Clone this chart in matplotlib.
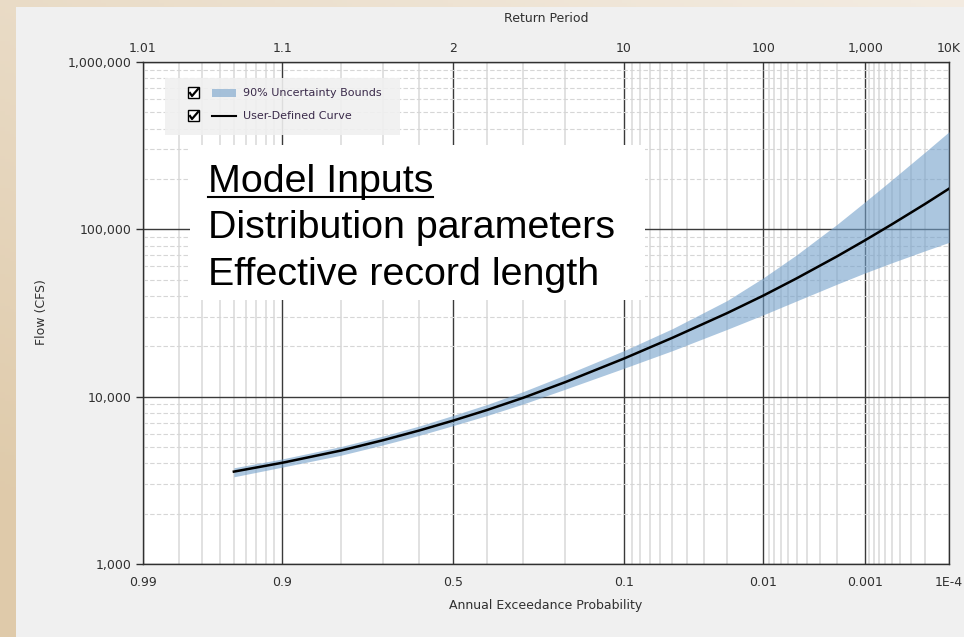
from statistics import NormalDist

import matplotlib.pyplot as plt
import numpy as np
from matplotlib.patches import Rectangle
from matplotlib.lines import Line2D
from matplotlib.ticker import FixedLocator, LogLocator, NullFormatter, FuncFormatter

plt.rcParams['font.family'] = ['DejaVu Sans']

# annual exceedance probability and flow (cfs)
aep = [0.95, 0.9, 0.8, 0.7, 0.6, 0.5, 0.4, 0.3, 0.2, 0.1, 0.05, 0.02, 0.01,
       0.005, 0.002, 0.001, 0.0005, 0.0002, 0.0001]
flow = [3565, 4027, 4764, 5495, 6281, 7194, 8318, 9840, 12220, 16900, 22490,
        31550, 40180, 50930, 68870, 86100, 107150, 141900, 174980]
upper = [3758, 4246, 5035, 5821, 6683, 7727, 8974, 10715, 13490, 18840, 25500,
         37500, 51300, 70400, 106900, 146200, 197700, 289700, 382800]
lower = [3319, 3793, 4467, 5152, 5875, 6714, 7709, 9036, 11090, 14790, 18840,
         25230, 30830, 37330, 46990, 54950, 63100, 74470, 83560]

prob_ticks = [0.99, 0.9, 0.5, 0.1, 0.01, 0.001, 0.0001]
prob_labels = ['0.99', '0.9', '0.5', '0.1', '0.01', '0.001', '1E-4']
period_labels = ['1.01', '1.1', '2', '10', '100', '1,000', '10K']
prob_minor = ([0.98, 0.97, 0.96, 0.95, 0.94, 0.93, 0.92, 0.91, 0.8, 0.7, 0.6,
               0.4, 0.3, 0.2]
              + [k / 100 for k in range(2, 10)]
              + [k / 1000 for k in range(2, 10)]
              + [k / 10000 for k in range(2, 10)])

legend_items = ['90% Uncertainty Bounds', 'User-Defined Curve']
note_lines = ['Model Inputs', 'Distribution parameters', 'Effective record length']

band_color = '#73a0ca'
band_alpha = 0.6
txt_color = '#303030'

# normal probability scale: exceedance probability -> standard normal quantile
# (increasing transform, the axis is then reversed with xlim)
nd = NormalDist()


def _z(p):
    if not np.isfinite(p):
        return np.nan
    p = min(max(p, 1e-12), 1 - 1e-12)
    return nd.inv_cdf(p)


def _p(z):
    if not np.isfinite(z):
        return np.nan
    return nd.cdf(z)


def fwd(p):
    return np.vectorize(_z, otypes=[float])(np.asarray(p, dtype=float))


def inv(z):
    return np.vectorize(_p, otypes=[float])(np.asarray(z, dtype=float))


W, H = 964, 637
fig = plt.figure(figsize=(W / 100, H / 100), dpi=100)

# slide background + gray chart panel
bg = fig.add_axes([0, 0, 1, 1], zorder=-10)
gx, gy = np.meshgrid(np.linspace(0, 1, 200), np.linspace(0, 1, 200))
c0 = np.array([0.955, 0.925, 0.885])
c1 = np.array([0.875, 0.795, 0.670])
t = np.clip(0.65 * gy + 0.5 * (1 - gx), 0, 1)[..., None]
bg.imshow(c0 * (1 - t) + c1 * t, extent=[0, 1, 0, 1], aspect='auto', origin='upper')
bg.add_patch(Rectangle((16 / W, 0), 1, 1 - 7 / H, color='#f0f0f0', lw=0))
bg.set_xlim(0, 1)
bg.set_ylim(0, 1)
bg.axis('off')

L, R, T, B = 143, 949, 62, 564
ax = fig.add_axes([L / W, 1 - B / H, (R - L) / W, (B - T) / H])
ax.set_facecolor('white')


def px(x, y):
    # pixel position in the picture -> axes fraction
    return (x - L) / (R - L), (B - y) / (B - T)


ax.set_xscale('function', functions=(fwd, inv))
ax.set_yscale('log')
ax.set_xlim(0.99, 0.0001)
ax.set_ylim(1000, 1000000)

ax.fill_between(aep, lower, upper, color=band_color, alpha=band_alpha, lw=0, zorder=3)
ax.plot(aep, flow, color='black', lw=1.8, zorder=4)

ax.xaxis.set_major_locator(FixedLocator(prob_ticks))
ax.xaxis.set_minor_locator(FixedLocator(prob_minor))
ax.set_xticklabels(prob_labels)
ax.xaxis.set_minor_formatter(NullFormatter())
ax.yaxis.set_major_locator(FixedLocator([1000, 10000, 100000, 1000000]))
ax.yaxis.set_minor_locator(LogLocator(base=10, subs=range(2, 10)))
ax.yaxis.set_major_formatter(FuncFormatter(lambda v, pos: '{:,.0f}'.format(v)))
ax.yaxis.set_minor_formatter(NullFormatter())

ax.tick_params(axis='x', which='both', length=0, pad=9, labelsize=9, colors=txt_color)
ax.tick_params(axis='y', which='major', length=5, width=1, pad=3, labelsize=9,
               colors=txt_color)
ax.tick_params(axis='y', which='minor', length=0)

ax.grid(which='major', color='#3a3a3a', lw=1.0, zorder=1)
ax.xaxis.grid(which='minor', color='#dcdcdc', lw=1.2, zorder=0)
ax.yaxis.grid(which='minor', color='#d6d6d6', lw=0.8, ls=(0, (4, 2)), zorder=0)
ax.set_axisbelow(True)
for s in ax.spines.values():
    s.set_color('#303030')
    s.set_linewidth(1.0)

ax.set_xlabel('Annual Exceedance Probability', fontsize=9, color=txt_color)
ax.xaxis.set_label_coords(*px(546, 599))
ax.set_ylabel('Flow (CFS)', fontsize=9, color=txt_color)
ax.yaxis.set_label_coords(*px(48, 312))

# return period axis on top
top = ax.twiny()
top.set_xscale('function', functions=(fwd, inv))
top.set_xlim(ax.get_xlim())
top.xaxis.set_major_locator(FixedLocator(prob_ticks))
top.set_xticklabels(period_labels)
top.xaxis.set_minor_locator(FixedLocator([]))
top.tick_params(axis='x', length=0, pad=5, labelsize=9, colors=txt_color)
for s in top.spines.values():
    s.set_visible(False)
top.set_xlabel('Return Period', fontsize=9, color=txt_color)
top.xaxis.set_label_coords(*px(546, 22))

# legend with check boxes
lx0, ly0 = px(165, 135)
lx1, ly1 = px(400, 78)
ax.add_patch(Rectangle((lx0, ly0), lx1 - lx0, ly1 - ly0, transform=ax.transAxes,
                       fc='#f0f0f0', ec='none', alpha=0.9, zorder=5))
for i, (label, yy) in enumerate(zip(legend_items, [93, 116])):
    bx, by = px(188, yy + 5)
    bx1, by1 = px(199, yy - 6)
    ax.add_patch(Rectangle((bx, by), bx1 - bx, by1 - by, transform=ax.transAxes,
                           fc='white', ec='black', lw=1.0, zorder=6))
    cx = [px(190, yy), px(192, yy + 3), px(198, yy - 4)]
    ax.add_line(Line2D([c[0] for c in cx], [c[1] for c in cx], transform=ax.transAxes,
                       color='black', lw=1.6, zorder=7))
    sx0, sy0 = px(212, yy + 4)
    sx1, sy1 = px(236, yy - 4)
    if i == 0:
        ax.add_patch(Rectangle((sx0, sy0), sx1 - sx0, sy1 - sy0, transform=ax.transAxes,
                               fc=band_color, alpha=band_alpha, ec='none', zorder=6))
    else:
        my = px(0, yy)[1]
        ax.add_line(Line2D([sx0, sx1], [my, my], transform=ax.transAxes,
                           color='black', lw=1.5, zorder=6))
    tx, ty = px(243, yy)
    ax.text(tx, ty, label, transform=ax.transAxes, fontsize=8, color='#3a2a4a',
            va='center', ha='left', zorder=7)

# white note box
nx0, ny0 = px(190, 300)
nx1, ny1 = px(645, 145)
ax.add_patch(Rectangle((nx0, ny0), nx1 - nx0, ny1 - ny0, transform=ax.transAxes,
                       fc='white', ec='none', zorder=8))
texts = []
for line, base in zip(note_lines, [192, 238, 285]):
    texts.append(fig.text(208 / W, 1 - base / H, line, fontsize=28.4, color='black',
                          family='Liberation Sans', va='baseline', ha='left', zorder=20))

fig.canvas.draw()
ext = texts[0].get_window_extent()
uy = 1 - 197 / H
fig.add_artist(Line2D([208 / W, ext.x1 / W], [uy, uy], transform=fig.transFigure,
                      color='black', lw=1.5, zorder=20))

fig.savefig('out.png', dpi=100)
